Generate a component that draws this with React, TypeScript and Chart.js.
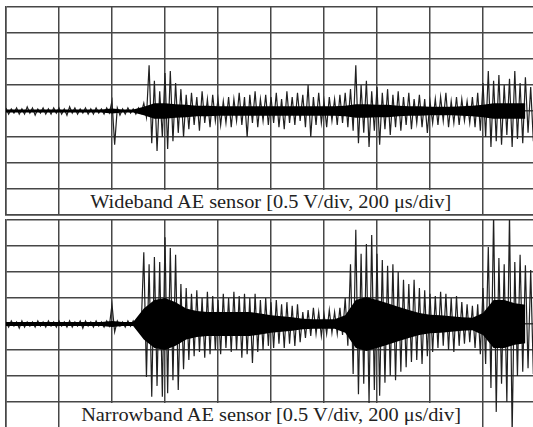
import React, { useEffect, useRef } from "react";
import { Chart, registerables } from "chart.js";

Chart.register(...registerables);

// Time axis: 200 µs/div, 10 divisions; amplitude axis: 0.5 V/div, 8 divisions
const TIME_MAX_US = 2000;
const TIME_STEP_DIV = 200;
const VOLT_MAX = 2;
const VOLT_STEP_DIV = 0.5;
const SAMPLE_US = 20; // peak envelope sample spacing
const CORE_US = 40; // dense core envelope sample spacing

const WIDE_LABEL = "Wideband AE sensor [0.5 V/div, 200 μs/div]";
const NARROW_LABEL = "Narrowband AE sensor [0.5 V/div, 200 μs/div]";

// Wideband sensor: positive peaks (V) every 20 µs
const wideHigh = [
  0.06, 0.04, 0.06, 0.04, 0.08, 0.06, 0.04, 0.06, 0.04, 0.06,
  0.06, 0.04, 0.08, 0.06, 0.04, 0.06, 0.04, 0.06, 0.04, 0.06,
  0.19, 0.06, 0.04, 0.06, 0.04, 0.06, 0.15, 0.88, 0.58, 0.38,
  0.73, 0.77, 0.54, 0.42, 0.31, 0.35, 0.27, 0.38, 0.23, 0.31,
  0.23, 0.19, 0.27, 0.23, 0.35, 0.27, 0.31, 0.38, 0.23, 0.31,
  0.27, 0.35, 0.23, 0.38, 0.27, 0.35, 0.31, 0.5, 0.27, 0.35,
  0.19, 0.27, 0.23, 0.31, 0.35, 0.42, 0.88, 0.5, 0.58, 0.38,
  0.46, 0.35, 0.42, 0.31, 0.38, 0.27, 0.35, 0.23, 0.31, 0.23,
  0.19, 0.23, 0.27, 0.35, 0.19, 0.27, 0.23, 0.19, 0.27, 0.35,
  0.54, 0.77, 0.58, 0.69, 0.5, 0.62, 0.77, 0.54, 0.65, 0.46,
];
// Wideband sensor: negative peaks (V, magnitude) every 20 µs
const wideLow = [
  0.06, 0.04, 0.06, 0.06, 0.04, 0.08, 0.04, 0.06, 0.06, 0.04,
  0.06, 0.08, 0.04, 0.06, 0.04, 0.06, 0.06, 0.04, 0.06, 0.04,
  0.65, 0.08, 0.06, 0.04, 0.06, 0.04, 0.12, 0.62, 0.77, 0.5,
  0.73, 0.58, 0.42, 0.5, 0.35, 0.27, 0.38, 0.23, 0.31, 0.19,
  0.27, 0.23, 0.31, 0.19, 0.27, 0.5, 0.23, 0.31, 0.19, 0.27,
  0.23, 0.31, 0.35, 0.23, 0.27, 0.19, 0.31, 0.5, 0.27, 0.23,
  0.31, 0.19, 0.27, 0.23, 0.31, 0.38, 0.62, 0.42, 0.69, 0.38,
  0.65, 0.35, 0.46, 0.31, 0.38, 0.27, 0.35, 0.23, 0.31, 0.42,
  0.23, 0.27, 0.19, 0.31, 0.23, 0.27, 0.19, 0.23, 0.31, 0.38,
  0.5, 0.69, 0.58, 0.65, 0.46, 0.69, 0.54, 0.62, 0.42, 0.58,
];
// Wideband sensor: dense core half-width (V) every 40 µs
const wideCore = [
  0.03, 0.03, 0.03, 0.03, 0.03, 0.03, 0.03, 0.03, 0.03, 0.03,
  0.05, 0.03, 0.03, 0.08, 0.15, 0.15, 0.13, 0.12, 0.1, 0.1,
  0.09, 0.09, 0.09, 0.09, 0.09, 0.09, 0.09, 0.09, 0.09, 0.09,
  0.09, 0.09, 0.1, 0.13, 0.13, 0.12, 0.12, 0.1, 0.09, 0.09,
  0.08, 0.08, 0.08, 0.09, 0.1, 0.12, 0.15, 0.15, 0.15, 0.15,
];

// Narrowband sensor: positive peaks (V) every 20 µs
const narrowHigh = [
  0.04, 0.06, 0.04, 0.06, 0.04, 0.04, 0.06, 0.04, 0.06, 0.04,
  0.06, 0.04, 0.06, 0.04, 0.06, 0.06, 0.04, 0.06, 0.04, 0.06,
  0.37, 0.06, 0.04, 0.06, 0.06, 0.08, 1.38, 1.15, 1.29, 1.19,
  1.67, 1.46, 1.33, 0.77, 0.69, 0.58, 0.65, 0.5, 0.62, 0.54,
  0.46, 0.58, 0.5, 0.62, 0.54, 0.58, 0.5, 0.58, 0.46, 0.5,
  0.42, 0.46, 0.38, 0.42, 0.35, 0.38, 0.23, 0.27, 0.31, 0.23,
  0.19, 0.27, 0.23, 0.31, 0.5, 1.15, 1.81, 1.35, 1.54, 1.71,
  1.35, 1.23, 1.12, 1.15, 1.0, 0.85, 0.77, 0.85, 0.69, 0.65,
  0.58, 0.54, 0.62, 0.58, 0.5, 0.54, 0.42, 0.38, 0.35, 0.38,
  0.69, 1.48, 2.12, 1.27, 1.15, 2.12, 1.19, 1.33, 1.13, 1.04,
];
// Narrowband sensor: negative peaks (V, magnitude) every 20 µs
const narrowLow = [
  0.06, 0.04, 0.08, 0.06, 0.04, 0.06, 0.04, 0.06, 0.04, 0.06,
  0.04, 0.06, 0.06, 0.04, 0.08, 0.04, 0.06, 0.04, 0.06, 0.04,
  0.15, 0.04, 0.06, 0.04, 0.06, 0.08, 1.02, 1.4, 1.19, 1.4,
  1.33, 1.08, 1.27, 0.87, 0.69, 0.62, 0.54, 0.65, 0.58, 0.5,
  0.58, 0.46, 0.54, 0.5, 0.65, 0.58, 0.75, 0.54, 0.5, 0.42,
  0.46, 0.38, 0.46, 0.38, 0.42, 0.35, 0.27, 0.23, 0.19, 0.23,
  0.19, 0.17, 0.19, 0.21, 0.42, 0.96, 1.35, 1.15, 1.52, 1.27,
  1.38, 1.13, 1.0, 1.08, 0.92, 0.83, 0.73, 0.69, 0.77, 0.62,
  0.54, 0.46, 0.42, 0.5, 0.54, 0.42, 0.38, 0.35, 0.46, 0.58,
  0.77, 1.23, 1.69, 1.15, 1.5, 2.12, 1.0, 0.92, 0.85, 0.96,
];
// Narrowband sensor: dense core half-width (V) every 40 µs
const narrowCore = [
  0.04, 0.04, 0.04, 0.04, 0.04, 0.04, 0.04, 0.04, 0.04, 0.04,
  0.06, 0.04, 0.04, 0.3, 0.46, 0.5, 0.42, 0.3, 0.25, 0.23,
  0.23, 0.23, 0.23, 0.23, 0.2, 0.17, 0.15, 0.13, 0.1, 0.09,
  0.09, 0.09, 0.17, 0.46, 0.52, 0.46, 0.4, 0.33, 0.27, 0.21,
  0.18, 0.17, 0.15, 0.13, 0.12, 0.21, 0.46, 0.46, 0.4, 0.37,
];

const GRID_COLOR = "#474747";
const TRACE_COLOR = "#202020";

function buildConfig(high: number[], low: number[], core: number[], padTop: number, padBottom: number) {
  const zig: { x: number; y: number }[] = [];
  high.forEach((h, i) => {
    zig.push({ x: i * SAMPLE_US, y: h });
    zig.push({ x: i * SAMPLE_US + SAMPLE_US / 2, y: -low[i] });
  });
  const coreUp = core.map((c, j) => ({ x: j * CORE_US, y: c }));
  const coreDown = core.map((c, j) => ({ x: j * CORE_US, y: -c }));
  const axisGrid = { color: GRID_COLOR, lineWidth: 1.5, drawTicks: false };
  const axisBorder = { color: GRID_COLOR, width: 1.5 };
  return {
    type: "line" as const,
    data: {
      datasets: [
        {
          data: coreUp,
          borderWidth: 0,
          backgroundColor: "#000",
          fill: "+1",
          pointRadius: 0,
        },
        {
          data: coreDown,
          borderWidth: 0,
          backgroundColor: "#000",
          fill: false,
          pointRadius: 0,
        },
        {
          data: zig,
          borderColor: TRACE_COLOR,
          borderWidth: 1.2,
          fill: false,
          pointRadius: 0,
          tension: 0,
        },
      ],
    },
    options: {
      animation: false as const,
      responsive: false,
      devicePixelRatio: 1,
      layout: { padding: { left: 6, right: 4, top: padTop, bottom: padBottom } },
      plugins: { legend: { display: false }, tooltip: { enabled: false } },
      scales: {
        x: {
          type: "linear" as const,
          min: 0,
          max: TIME_MAX_US,
          ticks: { display: false, stepSize: TIME_STEP_DIV },
          grid: axisGrid,
          border: axisBorder,
        },
        y: {
          type: "linear" as const,
          min: -VOLT_MAX,
          max: VOLT_MAX,
          ticks: { display: false, stepSize: VOLT_STEP_DIV },
          grid: axisGrid,
          border: axisBorder,
        },
      },
    },
  };
}

const labelStyle: React.CSSProperties = {
  position: "absolute",
  left: 60,
  width: 422,
  height: 24,
  background: "#fff",
  fontFamily: "'Liberation Serif', 'Times New Roman', serif",
  fontSize: 18,
  lineHeight: "24px",
  color: "#222",
  textAlign: "center",
  whiteSpace: "nowrap",
};

export default function App() {
  const topRef = useRef<HTMLCanvasElement | null>(null);
  const botRef = useRef<HTMLCanvasElement | null>(null);

  useEffect(() => {
    const charts: Chart[] = [];
    if (topRef.current) {
      charts.push(new Chart(topRef.current, buildConfig(wideHigh, wideLow, wideCore, 7, 3) as any));
    }
    if (botRef.current) {
      charts.push(new Chart(botRef.current, buildConfig(narrowHigh, narrowLow, narrowCore, 4, 2) as any));
    }
    return () => charts.forEach((c) => c.destroy());
  }, []);

  return (
    <div
      style={{
        position: "fixed",
        left: 0,
        top: 0,
        width: 533,
        height: 427,
        overflow: "hidden",
        background: "#fff",
      }}
    >
      <canvas ref={topRef} width={540} height={218} style={{ position: "absolute", left: 0, top: 0 }} />
      <canvas ref={botRef} width={540} height={214} style={{ position: "absolute", left: 0, top: 216 }} />
      <div style={{ ...labelStyle, top: 190 }}>
        <span style={{ display: "inline-block", transform: "scaleX(1.13)" }}>{WIDE_LABEL}</span>
      </div>
      <div style={{ ...labelStyle, top: 403 }}>
        <span style={{ display: "inline-block", transform: "scaleX(1.13)" }}>{NARROW_LABEL}</span>
      </div>
    </div>
  );
}
